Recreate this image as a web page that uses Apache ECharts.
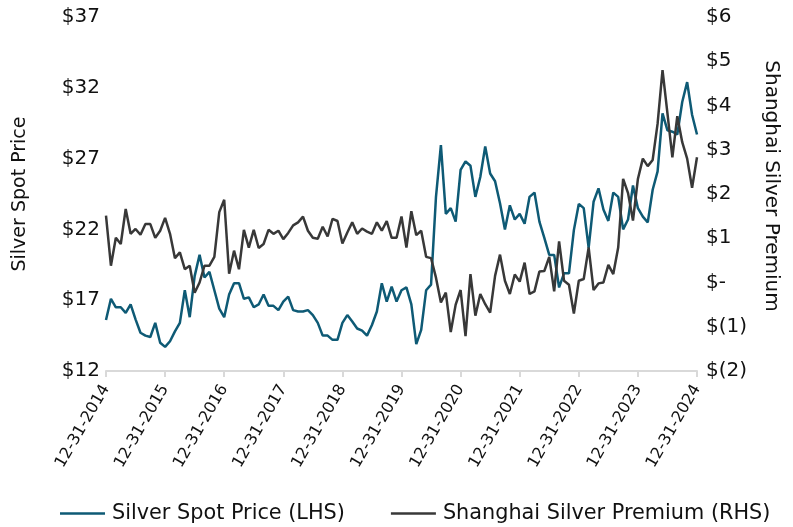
<!DOCTYPE html>
<html>
<head>
<meta charset="utf-8">
<script src="https://cdn.jsdelivr.net/npm/echarts@6/dist/echarts.min.js"></script>
<style>
html,body{margin:0;padding:0;background:#fff;}
#chart{width:793px;height:527px;}
</style>
</head>
<body>
<div id="chart"></div>
<script>
// Year-end tick labels (one category per month between them)
const tickLabels = ['12-31-2014','12-31-2015','12-31-2016','12-31-2017','12-31-2018','12-31-2019','12-31-2020','12-31-2021','12-31-2022','12-31-2023','12-31-2024'];

// Silver spot price, monthly, USD/oz (LHS)
const silverSpot = [
  15.6, 17.1, 16.5, 16.5, 16.1, 16.7, 15.65, 14.7, 14.5, 14.4, 15.4, 14.0,
  13.7, 14.1, 14.8, 15.4, 17.7, 15.8, 18.7, 20.2, 18.6, 19.0, 17.7, 16.4,
  15.8, 17.4, 18.2, 18.2, 17.1, 17.2, 16.5, 16.7, 17.4, 16.6, 16.6, 16.3,
  16.9, 17.25, 16.3, 16.2, 16.2, 16.3, 15.95, 15.4, 14.5, 14.5, 14.2, 14.2,
  15.4, 15.95, 15.5, 15.0, 14.85, 14.5, 15.25, 16.2, 18.2, 16.9, 17.95, 16.9,
  17.7, 17.9, 16.7, 13.9, 14.9, 17.7, 18.1, 24.3, 27.95, 23.1, 23.5, 22.55,
  26.2, 26.8, 26.5, 24.3, 25.7, 27.85, 25.95, 25.4, 23.85, 22.0, 23.7, 22.7,
  23.1, 22.4, 24.3, 24.6, 22.55, 21.4, 20.2, 20.2, 17.9, 18.9, 18.9, 21.95,
  23.8, 23.5, 20.7, 23.95, 24.9, 23.4, 22.6, 24.6, 24.3, 22.0, 22.7, 25.1,
  23.5, 22.9, 22.5, 24.8, 26.1, 30.2, 29.0, 28.9, 28.7, 31.0, 32.4, 30.1,
  28.7
];

// Shanghai silver premium, monthly, USD/oz (RHS)
const shanghaiPremium = [
  1.51, 0.38, 1.01, 0.87, 1.66, 1.10, 1.21, 1.08, 1.32, 1.32, 1.01, 1.17,
  1.46, 1.10, 0.55, 0.68, 0.30, 0.38, -0.23, 0.00, 0.38, 0.38, 0.58, 1.59,
  1.87, 0.20, 0.72, 0.30, 1.19, 0.79, 1.19, 0.78, 0.87, 1.19, 1.10, 1.17,
  0.98, 1.12, 1.29, 1.36, 1.49, 1.17, 1.01, 0.99, 1.26, 1.04, 1.44, 1.39,
  0.88, 1.13, 1.36, 1.10, 1.22, 1.15, 1.10, 1.36, 1.17, 1.39, 1.01, 1.01,
  1.49, 0.79, 1.61, 1.07, 1.17, 0.58, 0.55, 0.11, -0.45, -0.23, -1.12, -0.50,
  -0.17, -1.21, 0.19, -0.75, -0.26, -0.49, -0.68, 0.15, 0.63, 0.04, -0.26, 0.18,
  0.02, 0.45, -0.26, -0.20, 0.25, 0.26, 0.58, -0.20, 0.93, 0.04, -0.05, -0.70,
  0.04, 0.08, 0.79, -0.17, -0.02, 0.00, 0.40, 0.19, 0.79, 2.34, 2.02, 1.40,
  2.34, 2.80, 2.63, 2.77, 3.59, 4.80, 3.82, 2.83, 3.76, 3.17, 2.80, 2.14,
  2.83
];

const seriesNames = ['Silver Spot Price (LHS)', 'Shanghai Silver Premium (RHS)'];
const axisNames = ['Silver Spot Price', 'Shanghai Silver Premium'];

// Monthly categories: year-end months carry the tick label
const categories = [];
for (let i = 0; i < silverSpot.length; i++) {
  categories.push(i % 12 === 0 ? tickLabels[i / 12] : 'm' + i);
}

const FONT = '"DejaVu Sans", sans-serif';
const TXT = '#111111';
const chart = echarts.init(document.getElementById('chart'), null, {renderer: 'canvas'});
chart.setOption({
  animation: false,
  backgroundColor: '#ffffff',
  textStyle: {fontFamily: FONT},
  grid: {left: 106, right: 96, top: 17, bottom: 156, containLabel: false},
  legend: {
    data: seriesNames,
    left: 55, top: 498,
    icon: 'rect',
    itemWidth: 45, itemHeight: 2.5, itemGap: 46,
    textStyle: {fontFamily: FONT, fontSize: 20.8, color: TXT, padding: [0, 0, 0, 2]}
  },
  xAxis: {
    type: 'category',
    data: categories,
    boundaryGap: false,
    axisLine: {show: true, onZero: false, lineStyle: {color: '#d9d9d9', width: 2}},
    axisTick: {show: true, length: 6, lineStyle: {color: '#d9d9d9', width: 2},
      interval: function (idx) { return idx % 12 === 0; }},
    axisLabel: {
      interval: function (idx) { return idx % 12 === 0; },
      rotate: 60, margin: 15,
      fontFamily: FONT, fontSize: 16, color: TXT
    },
    splitLine: {show: false}
  },
  yAxis: [
    {
      type: 'value', min: 12, max: 37, interval: 5, position: 'left',
      name: axisNames[0], nameLocation: 'middle', nameGap: 76, nameRotate: 90,
      nameTextStyle: {fontFamily: FONT, fontSize: 19, color: TXT},
      axisLine: {show: false}, axisTick: {show: false}, splitLine: {show: false},
      axisLabel: {margin: 6, fontFamily: FONT, fontSize: 20, color: TXT,
        formatter: function (v) { return '$' + v; }}
    },
    {
      type: 'value', min: -2, max: 6, interval: 1, position: 'right',
      name: axisNames[1], nameLocation: 'middle', nameGap: 64, nameRotate: -90,
      nameTextStyle: {fontFamily: FONT, fontSize: 20, color: TXT, padding: [0, 16, 0, 0]},
      axisLine: {show: false}, axisTick: {show: false}, splitLine: {show: false},
      axisLabel: {margin: 9, fontFamily: FONT, fontSize: 20, color: TXT,
        formatter: function (v) {
          if (v === 0) return '$-';
          if (v < 0) return '$(' + (-v) + ')';
          return '$' + v;
        }}
    }
  ],
  series: [
    {
      name: seriesNames[0], type: 'line', yAxisIndex: 0, data: silverSpot,
      symbol: 'none', smooth: false,
      lineStyle: {color: '#0e5a75', width: 2.5}, itemStyle: {color: '#0e5a75'}, z: 2
    },
    {
      name: seriesNames[1], type: 'line', yAxisIndex: 1, data: shanghaiPremium,
      symbol: 'none', smooth: false,
      lineStyle: {color: '#383838', width: 2.5}, itemStyle: {color: '#383838'}, z: 3
    }
  ]
});
</script>
</body>
</html>
